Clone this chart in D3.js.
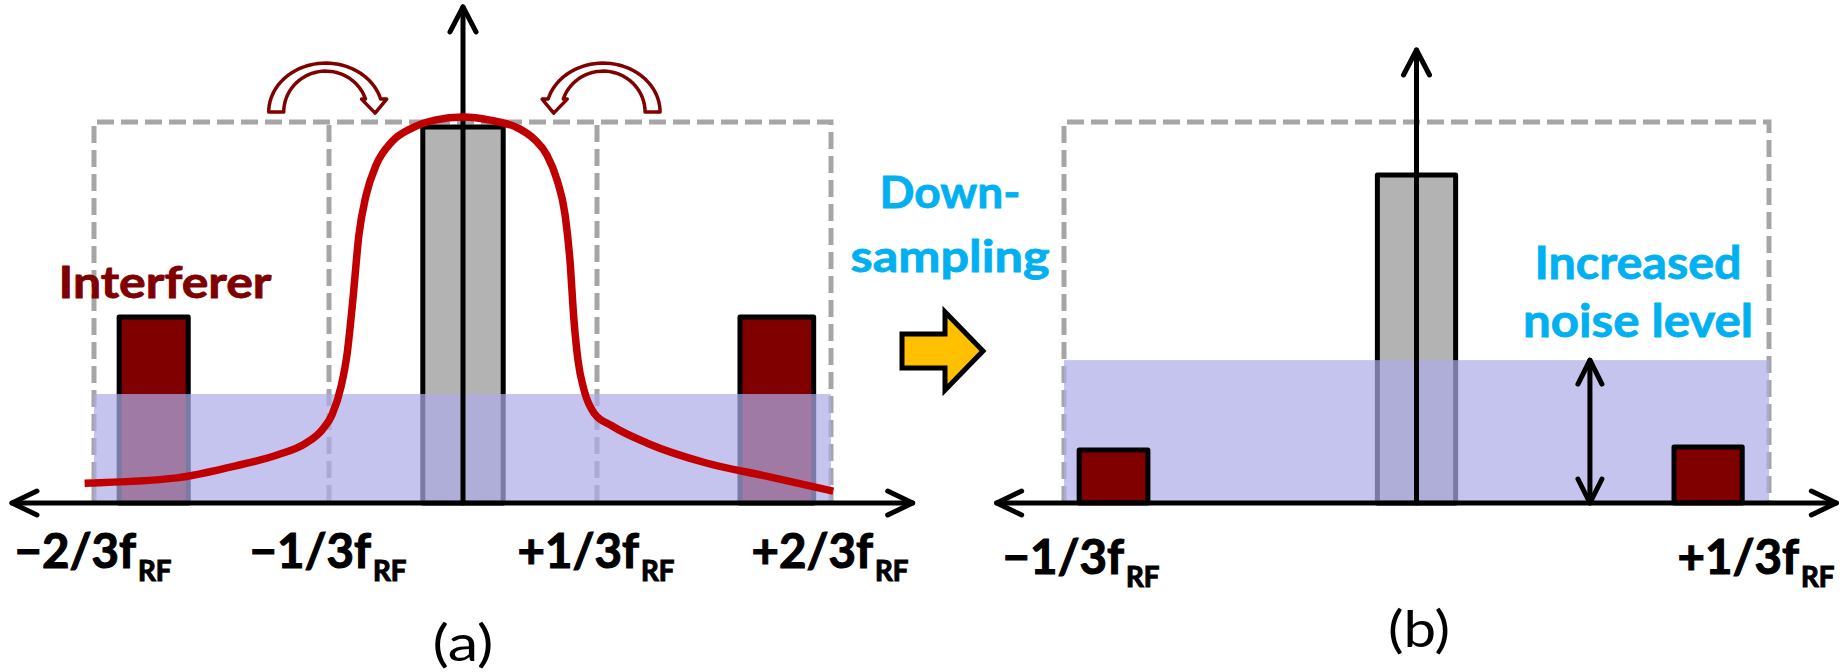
<!DOCTYPE html>
<html>
<head>
<meta charset="utf-8">
<script src="https://cdn.jsdelivr.net/npm/d3@7"></script>
<style>
  body { margin: 0; background: #fff; }
  svg { display: block; }
</style>
</head>
<body>
<svg id="fig"></svg>
<script>
// Constants
const W = 1846, H = 672;
const font = "Lato, 'Open Sans', sans-serif";
const maroon = "#800000";
const cyan = "#00b0f0";

// ---- Data: frequency in units of f_RF, level in arbitrary units (0..100 = dashed box height)

// panel (a) - before down-sampling
const zonesA = [-2/3, -1/3, 1/3, 2/3];
const tickLabelsA = ["\u22122/3", "\u22121/3", "+1/3", "+2/3"];
const barKindA = ["interferer", "signal", "interferer"];
const barStartA = [-0.631, -0.1, 0.537];
const barEndA = [-0.533, 0.1, 0.642];
const barLevelA = [48.8, 98.7, 48.8];
const noiseLevelA = 28.6;
// filter response (red curve)
const curveFreq = [-0.680, -0.549, -0.467, -0.407, -0.366, -0.343, -0.326, -0.303, -0.288, -0.274, -0.259,
  -0.241, -0.216, -0.177, -0.127, -0.070, 0, 0.067, 0.137, 0.179, 0.209, 0.234, 0.254, 0.266, 0.276,
  0.286, 0.301, 0.326, 0.355, 0.405, 0.489, 0.573, 0.670];
const curveLevel = [5.2, 6.6, 9.7, 12.6, 15.7, 19.2, 23.1, 30.7, 39.4, 53.3, 70.3,
  80.8, 88.7, 94.8, 98.4, 100.5, 101.3, 100.5, 98.4, 95.3, 91.3, 84.8, 75.6, 63.8, 48.0,
  37.5, 29.7, 23.6, 20.2, 15.7, 10.5, 7.1, 3.1];
// folding arrows (arc centre, direction of the head)
const foldCenter = [-0.338, 0.342];
const foldDir = [1, -1];

// panel (b) - after down-sampling
const zonesB = [-1/3, 1/3];
const tickLabelsB = ["\u22121/3", "+1/3"];
const barKindB = ["interferer", "signal", "interferer"];
const barStartB = [-0.319, -0.037, 0.2435];
const barEndB = [-0.254, 0.037, 0.308];
const barLevelB = [13.9, 86.1, 14.7];
const noiseLevelB = 37.5;
const noiseArrowB = 0.164;

// ---- Scales
const xA = d3.scaleLinear().domain([-2/3, -1/3, 0, 1/3, 2/3]).range([94, 329, 463, 597, 831]);
const xB = d3.scaleLinear().domain([-1/3, 1/3]).range([1064, 1769]);
const y = d3.scaleLinear().domain([0, 100]).range([503, 122]);

const svg = d3.select("#fig").attr("width", W).attr("height", H);

function fitText(g, str, x, baseline, size, weight, fill, len, thick) {
  return g.append("text")
    .attr("x", x - len / 2)
    .attr("y", baseline)
    .attr("font-family", font)
    .attr("font-size", size)
    .attr("font-weight", weight)
    .attr("fill", fill)
    .attr("stroke", thick ? fill : "none")
    .attr("stroke-width", thick || 0)
    .attr("textLength", len)
    .attr("lengthAdjust", "spacingAndGlyphs")
    .text(str);
}

// tick label like "−1/3f" with subscript "RF", squeezed to the reference width
function freqLabel(g, cx, baseline, str) {
  const targetW = 155;
  const holder = g.append("g");
  const t = holder.append("text")
    .attr("x", 0).attr("y", 0)
    .attr("font-family", font).attr("font-weight", 700).attr("font-size", 48)
    .attr("fill", "#000").attr("stroke", "#000").attr("stroke-width", 1.1);
  t.append("tspan").text(str + "f");
  t.append("tspan").attr("font-size", 28).attr("dy", 13).attr("dx", 2).text("RF");
  const natural = t.node().getComputedTextLength();
  holder.attr("transform", `translate(${cx - targetW / 2},${baseline}) scale(${targetW / natural},1)`);
}

function drawPanel(x, zones, kinds, starts, ends, levels, noiseLevel, axisExt, yTop, overNoise) {
  const g = svg.append("g");
  const x0 = x(zones[0]), x1 = x(zones[zones.length - 1]);

  // dashed zone boxes
  g.append("path")
    .attr("d", `M${x0},${y(0)}V${y(100)}H${x1}V${y(0)}`)
    .attr("fill", "none").attr("stroke", "#a6a6a6").attr("stroke-width", 5)
    .attr("stroke-dasharray", "17,7");
  zones.slice(1, -1).forEach(z => {
    g.append("path")
      .attr("d", `M${x(z)},${y(100)}V${y(0)}`)
      .attr("fill", "none").attr("stroke", "#a6a6a6").attr("stroke-width", 5)
      .attr("stroke-dasharray", "17,7").attr("stroke-dashoffset", -3);
  });

  const bars = kinds.map((k, i) => ({kind: k, a: starts[i], b: ends[i], level: levels[i]}));
  const drawBars = data => g.append("g").selectAll("rect")
    .data(data)
    .join("rect")
    .attr("x", d => x(d.a))
    .attr("y", d => y(d.level))
    .attr("width", d => x(d.b) - x(d.a))
    .attr("height", d => y(0) - y(d.level))
    .attr("fill", d => d.kind === "signal" ? "#b3b3b3" : maroon)
    .attr("stroke", "#000").attr("stroke-width", 5).attr("stroke-linejoin", "round");

  drawBars(bars.filter(d => !overNoise.includes(d.kind)));

  // noise floor
  g.append("rect")
    .attr("x", x0).attr("y", y(noiseLevel))
    .attr("width", x1 - x0).attr("height", y(0) - y(noiseLevel))
    .attr("fill", "#acace7").attr("fill-opacity", 0.71);

  drawBars(bars.filter(d => overNoise.includes(d.kind)));

  // axes with open arrow heads
  const ax = g.append("g").attr("fill", "none").attr("stroke", "#000")
    .attr("stroke-width", 5).attr("stroke-linecap", "round").attr("stroke-linejoin", "round");
  const xl = x(-axisExt), xr = x(axisExt), y0 = y(0);
  ax.append("path").attr("d", `M${xl},${y0}H${xr}`);
  ax.append("path").attr("d", `M${xl + 25},${y0 - 12}L${xl},${y0}L${xl + 25},${y0 + 12}`);
  ax.append("path").attr("d", `M${xr - 25},${y0 - 12}L${xr},${y0}L${xr - 25},${y0 + 12}`);
  const xc = x(0), yt = y(yTop);
  ax.append("path").attr("d", `M${xc},${y0}V${yt}`);
  ax.append("path").attr("d", `M${xc - 13},${yt + 25}L${xc},${yt}L${xc + 13},${yt + 25}`);

  return g;
}

// ---- Panel (a)
const gA = drawPanel(xA, zonesA, barKindA, barStartA, barEndA, barLevelA, noiseLevelA, 0.783, 130.2, []);

gA.append("path")
  .datum(curveFreq.map((f, i) => ({f: f, l: curveLevel[i]})))
  .attr("d", d3.line().x(d => xA(d.f)).y(d => y(d.l)).curve(d3.curveMonotoneX))
  .attr("fill", "none").attr("stroke", "#c00000").attr("stroke-width", 7.5);

zonesA.forEach((z, i) => freqLabel(gA, xA(z) - 2, 568, tickLabelsA[i]));

// hollow folding arrows: elliptic band ending in a downward head
function foldArrow(g, cx, baseY, dir) {
  const ro = [57, 49], ri = [42, 41]; // outer / inner radii (x, y)
  const lift = 13, hh = 4, tipDrop = 14;
  const po = Math.asin(lift / ro[1]), pi = Math.asin(lift / ri[1]);
  const pt = (r, p) => [cx - dir * r[0] * Math.cos(p), baseY - r[1] * Math.sin(p)];
  const n = 40;
  const outer = d3.range(n + 1).map(i => pt(ro, Math.PI * 0 + (i / n) * (Math.PI - po)));
  const inner = d3.range(n + 1).map(i => pt(ri, (Math.PI - pi) * (1 - i / n)));
  const xo = outer[n][0], xi = inner[0][0];
  const yb = baseY - lift;
  const head = [
    [xo + dir * 6, yb],
    [(xo + xi) / 2 + dir * 2, yb + tipDrop],
    [xi - dir * hh, yb]
  ];
  const pts = outer.concat(head, inner);
  g.append("path")
    .attr("d", "M" + pts.map(p => p.join(",")).join("L") + "Z")
    .attr("fill", "#fff").attr("stroke", maroon).attr("stroke-width", 3.5)
    .attr("stroke-linejoin", "round");
}
foldCenter.forEach((f, i) => foldArrow(gA, xA(f), y(102.6), foldDir[i]));

fitText(gA, "Interferer", 165, 298, 44, 700, "#7f0000", 213, 0.8);
fitText(gA, "(a)", 463, 661, 50, 400, "#000", 61);

// ---- Middle: down-sampling arrow
const gM = svg.append("g");
fitText(gM, "Down-", 950, 208, 44, 700, cyan, 141, 0.8);
fitText(gM, "sampling", 950, 272, 44, 700, cyan, 199, 0.8);
const ya = 351, xa = 902;
gM.append("path")
  .attr("d", `M${xa},${ya - 17}H${xa + 43}V${ya - 39}L${xa + 81},${ya}L${xa + 43},${ya + 39}V${ya + 17}H${xa}Z`)
  .attr("fill", "#ffc000").attr("stroke", "#000").attr("stroke-width", 5).attr("stroke-linejoin", "miter");

// ---- Panel (b)
const gB = drawPanel(xB, zonesB, barKindB, barStartB, barEndB, barLevelB, noiseLevelB, 0.397, 118.9, ["interferer"]);

// noise level double arrow
const dax = xB(noiseArrowB), dTop = y(noiseLevelB), dBot = y(0);
const da = gB.append("g").attr("fill", "none").attr("stroke", "#000")
  .attr("stroke-width", 5).attr("stroke-linecap", "round").attr("stroke-linejoin", "round");
da.append("path").attr("d", `M${dax},${dTop}V${dBot}`);
da.append("path").attr("d", `M${dax - 12},${dTop + 24}L${dax},${dTop}L${dax + 12},${dTop + 24}`);
da.append("path").attr("d", `M${dax - 12},${dBot - 24}L${dax},${dBot}L${dax + 12},${dBot - 24}`);

zonesB.forEach((z, i) => freqLabel(gB, xB(z) + (z < 0 ? 16 : -14), 574, tickLabelsB[i]));

fitText(gB, "Increased", 1638, 279, 45, 700, cyan, 207, 0.8);
fitText(gB, "noise level", 1638, 337, 45, 700, cyan, 230, 0.8);
fitText(gB, "(b)", 1419, 647, 50, 400, "#000", 62);
</script>
</body>
</html>
